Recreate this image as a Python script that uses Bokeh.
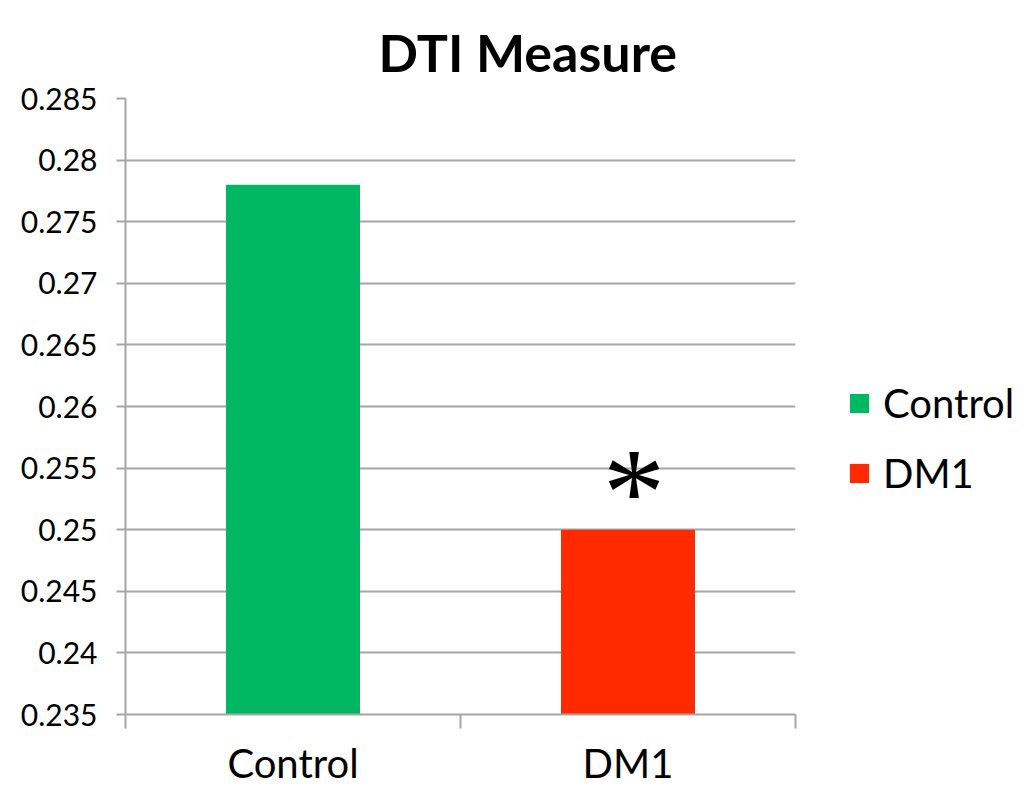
from bokeh.plotting import figure
from bokeh.models import (ColumnDataSource, Range1d, FixedTicker, Legend, LegendItem,
                          LabelSet)
from bokeh.embed import file_html
from bokeh.resources import INLINE

# Chart data
groups = ["Control", "DM1"]
dti_values = [0.278, 0.250]
bar_colors = ["#00B862", "#FF2A00"]
significance = ["", "*"]

y_ticks = [0.235, 0.24, 0.245, 0.25, 0.255, 0.26, 0.265, 0.27, 0.275, 0.28, 0.285]
y_tick_labels = ["0.235", "0.24", "0.245", "0.25", "0.255", "0.26", "0.265",
                 "0.27", "0.275", "0.28", "0.285"]
y_floor = 0.235
y_ceiling = 0.285

FONT = "Lato"
GRID = "#A6A6A6"

centers = [i + 0.5 for i in range(len(groups))]
source = ColumnDataSource(dict(x=centers, top=dti_values, color=bar_colors,
                               group=groups, sig=significance))

p = figure(frame_width=670, frame_height=616, output_backend="svg",
           toolbar_location=None,
           x_range=Range1d(0, len(groups)), y_range=Range1d(y_floor, y_ceiling),
           min_border_left=125, min_border_right=239, min_border_top=98,
           min_border_bottom=77)
p.outline_line_color = None
p.background_fill_color = "white"
p.border_fill_color = "white"

# title
p.title.text = "DTI Measure"
p.title.text_font = FONT
p.title.text_font_size = "52px"
p.title.text_font_style = "bold"
p.title.text_color = "black"
p.title.align = "left"
p.title.offset = 253
p.title.standoff = 32

# bars
bars = p.vbar(x="x", top="top", bottom=y_floor, width=0.4, color="color",
              line_color=None, source=source)

# significance marker above the bar
p.add_layout(LabelSet(x="x", y="top", text="sig", source=source, text_align="center",
                      text_baseline="bottom", x_offset=6, y_offset=-31,
                      text_font_size="125px", text_font="DejaVu Sans",
                      text_color="black"))

# y axis
yax = p.yaxis[0]
yax.ticker = FixedTicker(ticks=y_ticks)
yax.major_label_overrides = {t: lab for t, lab in zip(y_ticks, y_tick_labels)}
yax.major_label_text_font = FONT
yax.major_label_text_font_size = "30px"
yax.major_label_text_color = "black"
yax.major_tick_in = 0
yax.major_tick_out = 9
yax.major_tick_line_color = GRID
yax.major_tick_line_width = 2
yax.minor_tick_line_color = None
yax.axis_line_color = GRID
yax.axis_line_width = 2
yax.major_label_standoff = 19

# x axis: labels under bars, tick marks at group boundaries
xax = p.xaxis[0]
xax.ticker = FixedTicker(ticks=centers, minor_ticks=list(range(len(groups) + 1)))
xax.major_label_overrides = {c: g for c, g in zip(centers, groups)}
xax.major_label_text_font = FONT
xax.major_label_text_font_size = "40px"
xax.major_label_text_color = "black"
xax.major_tick_line_color = None
xax.major_tick_in = 0
xax.major_tick_out = 14
xax.minor_tick_in = 0
xax.minor_tick_out = 14
xax.minor_tick_line_color = GRID
xax.minor_tick_line_width = 2
xax.axis_line_color = GRID
xax.axis_line_width = 2
xax.major_label_standoff = 10

p.xgrid.grid_line_color = None
p.ygrid.ticker = FixedTicker(ticks=y_ticks)
p.ygrid.grid_line_color = GRID
p.ygrid.grid_line_width = 2

# legend in the right-hand panel
items = []
for i, g in enumerate(groups):
    items.append(LegendItem(label=g, renderers=[bars], index=i))
legend = Legend(items=items, location=(52, 217), orientation="vertical")
legend.label_text_font = FONT
legend.label_text_font_size = "40px"
legend.label_text_color = "black"
legend.glyph_width = 24
legend.glyph_height = 24
legend.label_standoff = 12
legend.spacing = 22
legend.padding = 0
legend.margin = 0
legend.border_line_color = None
legend.background_fill_alpha = 0
p.add_layout(legend, "right")

open("out.html", "w").write(file_html(p, INLINE))
